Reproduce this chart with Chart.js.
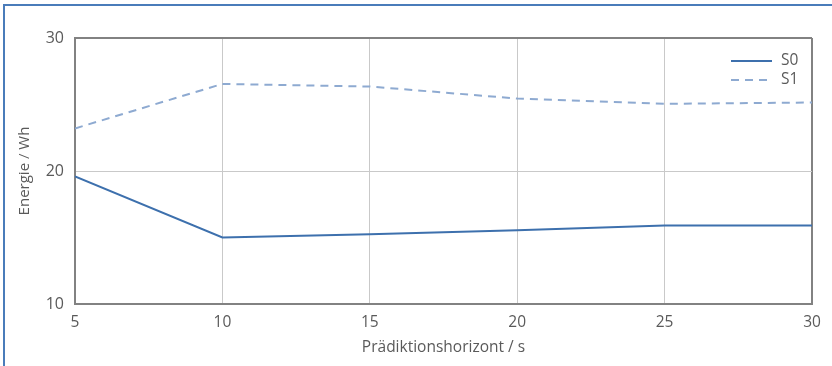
<!DOCTYPE html>
<html>
<head>
<meta charset="utf-8">
<script src="https://cdn.jsdelivr.net/npm/chart.js@4"></script>
<style>
    html, body { margin: 0; padding: 0; background: #fff; }
    #wrap { position: relative; width: 832px; height: 366px; overflow: hidden; }
    #frame { position: absolute; left: 3px; top: 4px; right: -10px; bottom: -10px;
             border-top: 2px solid #4a7cba; border-left: 2px solid #4a7cba; pointer-events: none; }
    canvas { position: absolute; left: 0; top: 0; }
</style>
</head>
<body>
<div id="wrap">
    <canvas id="chart" width="832" height="366"></canvas>
    <div id="frame"></div>
</div>
<script>
// 預測時域 (s)
const horizon = [5, 10, 15, 20, 25, 30];
const seriesNames = ['S0', 'S1'];
const energyS0 = [19.6, 15.0, 15.25, 15.55, 15.9, 15.9];
const energyS1 = [23.2, 26.55, 26.35, 25.45, 25.05, 25.15];
const yTicks = [10, 20, 30];

const textColor = '#5a5a5a';
const axisColor = '#828282';
const gridColor = '#c9c9c9';

// 圖例畫在繪圖區右上角
const insideLegend = {
    id: 'insideLegend',
    afterDraw(chart) {
        const ctx = chart.ctx;
        const area = chart.chartArea;
        ctx.save();
        ctx.font = '15.5px "Open Sans"';
        ctx.textBaseline = 'middle';
        chart.data.datasets.forEach((ds, i) => {
            const y = area.top + 23 + i * 19;
            const x0 = area.right - 81;
            ctx.strokeStyle = ds.borderColor;
            ctx.lineWidth = ds.borderWidth;
            ctx.setLineDash(ds.borderDash || []);
            ctx.beginPath();
            ctx.moveTo(x0, y);
            ctx.lineTo(x0 + 41, y);
            ctx.stroke();
            ctx.setLineDash([]);
            ctx.fillStyle = textColor;
            ctx.fillText(ds.label, x0 + 50, y);
        });
        ctx.restore();
    }
};

new Chart(document.getElementById('chart'), {
    type: 'line',
    data: {
        labels: horizon,
        datasets: [
            {
                label: seriesNames[0],
                data: horizon.map((x, i) => ({ x, y: energyS0[i] })),
                borderColor: '#3d70ad',
                borderWidth: 2,
                pointRadius: 0,
                tension: 0
            },
            {
                label: seriesNames[1],
                data: horizon.map((x, i) => ({ x, y: energyS1[i] })),
                borderColor: '#8eaad1',
                borderWidth: 2,
                borderDash: [8, 6],
                pointRadius: 0,
                tension: 0
            }
        ]
    },
    options: {
        responsive: false,
        animation: false,
        layout: { padding: { left: 0, right: 20, top: 38, bottom: 0 } },
        plugins: { legend: { display: false }, tooltip: { enabled: false } },
        scales: {
            x: {
                type: 'linear',
                min: 5, max: 30,
                afterFit: s => { s.height = 62; },
                afterBuildTicks: s => { s.ticks = horizon.map(v => ({ value: v })); },
                border: { color: axisColor, width: 2 },
                grid: {
                    drawTicks: false,
                    color: c => c.tick && c.tick.value === 30 ? axisColor : gridColor,
                    lineWidth: c => c.tick && c.tick.value === 30 ? 2 : 1
                },
                ticks: { color: textColor, font: { family: 'Open Sans', size: 15.5 }, padding: 9, maxRotation: 0 },
                title: { display: true, text: 'Prädiktionshorizont / s', color: textColor,
                         font: { family: 'Open Sans', size: 15.5 }, padding: { top: 2, bottom: 9 } }
            },
            y: {
                min: 10, max: 30,
                afterFit: s => { s.width = 75; },
                afterBuildTicks: s => { s.ticks = yTicks.map(v => ({ value: v })); },
                border: { color: axisColor, width: 2 },
                grid: {
                    drawTicks: false,
                    color: c => c.tick && c.tick.value === 30 ? axisColor : gridColor,
                    lineWidth: c => c.tick && c.tick.value === 30 ? 2 : 1
                },
                ticks: { color: textColor, font: { family: 'Open Sans', size: 16 }, padding: 11 },
                title: { display: true, text: 'Energie / Wh', color: textColor,
                         font: { family: 'Open Sans', size: 15 }, padding: { top: 16, bottom: 0 } }
            }
        }
    },
    plugins: [insideLegend]
});
</script>
</body>
</html>
